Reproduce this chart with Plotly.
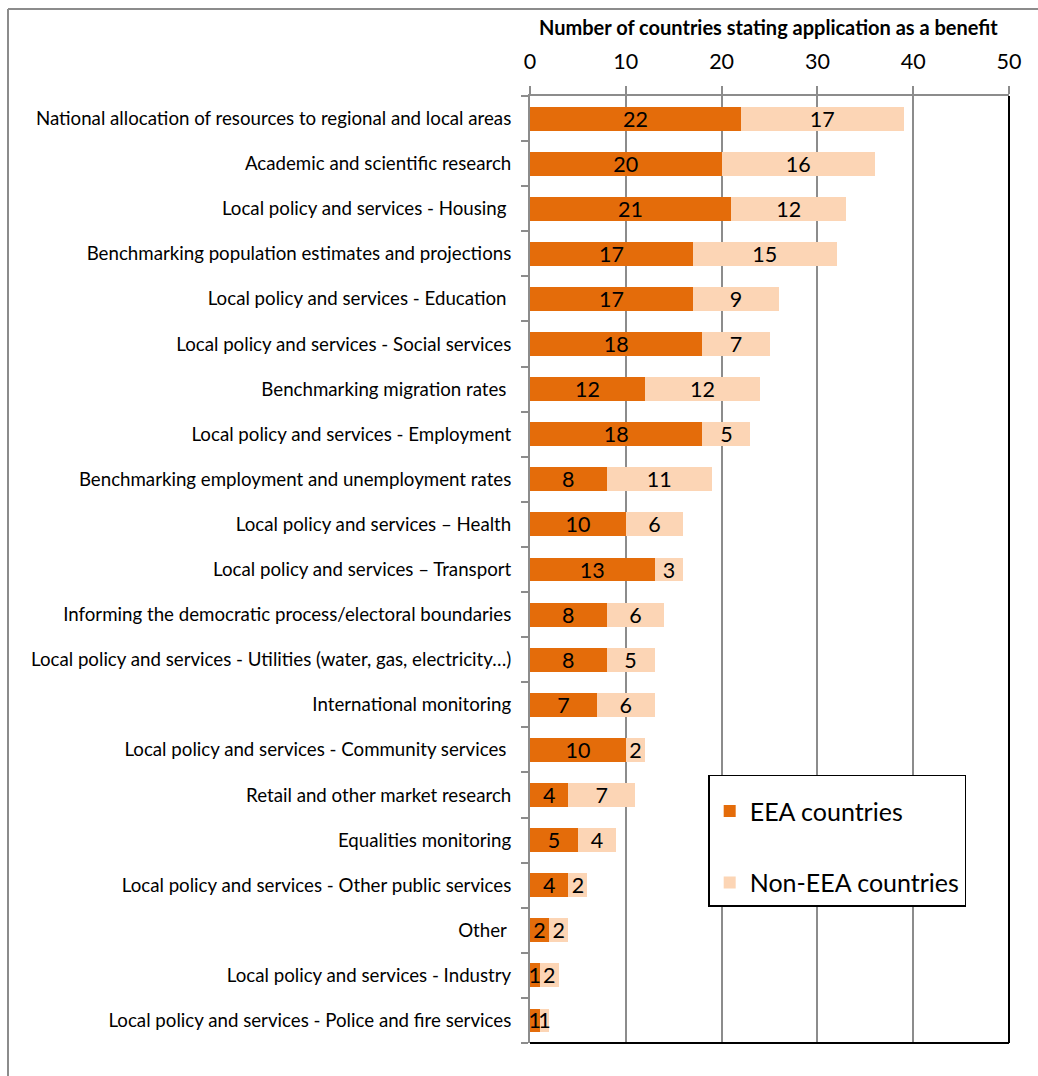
import plotly.graph_objects as go

categories = [
    "National allocation of resources to regional and local areas",
    "Academic and scientific research",
    "Local policy and services - Housing ",
    "Benchmarking population estimates and projections",
    "Local policy and services - Education ",
    "Local policy and services - Social services",
    "Benchmarking migration rates ",
    "Local policy and services - Employment",
    "Benchmarking employment and unemployment rates",
    "Local policy and services \u2013 Health",
    "Local policy and services \u2013 Transport",
    "Informing the democratic process/electoral boundaries",
    "Local policy and services - Utilities (water, gas, electricity\u2026)",
    "International monitoring",
    "Local policy and services - Community services ",
    "Retail and other market research",
    "Equalities monitoring",
    "Local policy and services - Other public services",
    "Other ",
    "Local policy and services - Industry",
    "Local policy and services - Police and fire services",
]
eea = [22, 20, 21, 17, 17, 18, 12, 18, 8, 10, 13, 8, 8, 7, 10, 4, 5, 4, 2, 1, 1]
non_eea = [17, 16, 12, 15, 9, 7, 12, 5, 11, 6, 3, 6, 5, 6, 2, 7, 4, 2, 2, 2, 1]
x_ticks = [0, 10, 20, 30, 40, 50]
x_title = "Number of countries stating application as a benefit"

FONT = "Lato, 'Open Sans', sans-serif"
ORANGE = "#E46C0A"
PEACH = "#FCD5B5"

fig = go.Figure()
fig.add_trace(go.Bar(
    y=categories, x=eea, orientation="h", name="EEA countries",
    marker=dict(color=ORANGE, line=dict(width=0)),
    text=[str(v) for v in eea], textposition="inside", insidetextanchor="middle",
    textangle=0, constraintext="none",
    insidetextfont=dict(color="black", size=21.5, family=FONT),
    width=0.53, legendgroup="a",
))
fig.add_trace(go.Bar(
    y=categories, x=non_eea, orientation="h", name="Non-EEA countries",
    marker=dict(color=PEACH, line=dict(width=0)),
    text=[str(v) for v in non_eea], textposition="inside", insidetextanchor="middle",
    textangle=0, constraintext="none",
    insidetextfont=dict(color="black", size=21.5, family=FONT),
    width=0.53, legendgroup="b",
))

fig.update_layout(
    barmode="stack",
    width=1038, height=1076,
    margin=dict(l=530, r=29, t=96, b=33),
    paper_bgcolor="white", plot_bgcolor="white",
    font=dict(family=FONT, color="black"),
    showlegend=True,
    legend=dict(
        x=0.372, y=0.283, xanchor="left", yanchor="top",
        bordercolor="black", borderwidth=1.5, bgcolor="white",
        font=dict(size=25, family=FONT), tracegroupgap=36,
        traceorder="grouped", itemwidth=30,
        title=dict(text=" ", font=dict(size=9)),
    ),
    xaxis=dict(
        side="top", range=[0, 50], tickvals=x_ticks,
        ticktext=[str(t) for t in x_ticks],
        tickfont=dict(size=21.5, family=FONT),
        showgrid=True, gridcolor="#8C8C8C", gridwidth=1.5,
        ticks="outside", ticklen=8, tickcolor="#8C8C8C", tickwidth=1.5,
        showline=True, linecolor="#8C8C8C", linewidth=2,
        zeroline=False, fixedrange=True, ticklabelstandoff=8,
    ),
    yaxis=dict(
        categoryorder="array", categoryarray=categories[::-1],
        tickfont=dict(size=18.7, family=FONT),
        ticks="outside", ticklen=7, tickcolor="#8C8C8C", tickwidth=1.5,
        tickson="boundaries", showgrid=False,
        showline=True, linecolor="#8C8C8C", linewidth=2,
        ticklabelstandoff=13, fixedrange=True,
    ),
    annotations=[dict(
        text="<b>" + x_title + "</b>", xref="paper", yref="paper",
        x=0.497, y=(1076 - 27 - 33) / 947, xanchor="center", yanchor="middle",
        showarrow=False, font=dict(size=20, family=FONT),
    )],
    shapes=[
        dict(type="line", xref="paper", yref="paper", x0=0, x1=1, y0=0, y1=0,
             line=dict(color="black", width=2)),
        dict(type="line", xref="paper", yref="paper", x0=1, x1=1, y0=0, y1=1,
             line=dict(color="black", width=2)),
        dict(type="line", xref="paper", yref="paper",
             x0=(8 - 530) / 479, x1=(1038 - 530) / 479,
             y0=(1076 - 9 - 33) / 947, y1=(1076 - 9 - 33) / 947,
             line=dict(color="#8C8C8C", width=2)),
        dict(type="line", xref="paper", yref="paper",
             x0=(8 - 530) / 479, x1=(8 - 530) / 479,
             y0=(1076 - 9 - 33) / 947, y1=-33 / 947,
             line=dict(color="#8C8C8C", width=2)),
    ],
)

fig.write_html("out.html")
